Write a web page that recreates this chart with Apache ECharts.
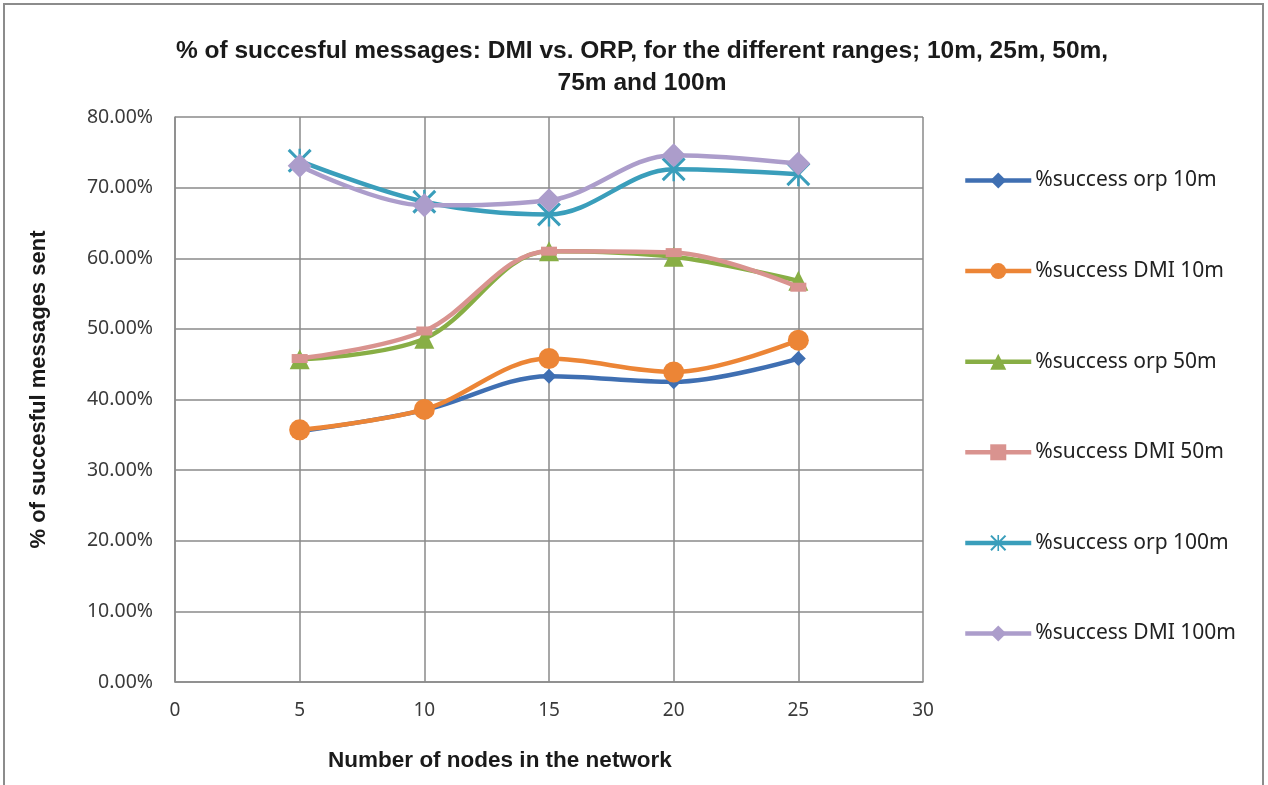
<!DOCTYPE html>
<html>
<head>
<meta charset="utf-8">
<title>% of succesful messages: DMI vs. ORP</title>
<script src="https://cdn.jsdelivr.net/npm/echarts@6/dist/echarts.min.js"></script>
<style>
  html, body { margin: 0; padding: 0; background: #fff; }
  #chart { width: 1268px; height: 785px; }
</style>
</head>
<body>
<div id="chart"></div>
<script>
// Number of nodes in the network
const nodes = [5, 10, 15, 20, 25];

// % of successful messages sent, per protocol and range
const orp10  = [35.5, 38.5, 43.3, 42.5, 45.8];
const dmi10  = [35.7, 38.6, 45.8, 43.9, 48.4];
const orp50  = [45.7, 48.6, 61.0, 60.2, 56.8];
const dmi50  = [45.8, 49.7, 61.0, 60.8, 55.9];
const orp100 = [73.8, 68.0, 66.2, 72.6, 71.9];
const dmi100 = [73.1, 67.5, 68.2, 74.6, 73.4];

const seriesNames = [
  '%success orp 10m', '%success DMI 10m', '%success orp 50m',
  '%success DMI 50m', '%success orp 100m', '%success DMI 100m'
];

const xTicks = { min: 0, max: 30, step: 5 };
const yTicks = { min: 0, max: 80, step: 10 };

// asterisk marker: an X crossed by a vertical bar
const asterisk = 'path://M0,1.8 L1.8,0 L10,8.2 L18.2,0 L20,1.8 L11.8,10 L20,18.2 L18.2,20 L10,11.8 L1.8,20 L0,18.2 L8.2,10 Z M9,0 L11,0 L11,20 L9,20 Z';

const styles = [
  { color: '#3F6FB2', symbol: 'diamond', size: 15 },
  { color: '#EC8536', symbol: 'circle', size: 21 },
  { color: '#88AE45', symbol: 'triangle', size: 20 },
  { color: '#D9938F', symbol: 'rect', size: [16, 9] },
  { color: '#3A9EBB', symbol: asterisk, size: 24 },
  { color: '#AC9DCB', symbol: 'diamond', size: 24 }
];

const values = [orp10, dmi10, orp50, dmi50, orp100, dmi100];

const series = values.map((vals, i) => ({
  name: seriesNames[i],
  type: 'line',
  smooth: 0.35,
  data: nodes.map((n, k) => [n, vals[k]]),
  symbol: styles[i].symbol,
  symbolSize: styles[i].size,
  showAllSymbol: true,
  lineStyle: { width: 4.5, color: styles[i].color },
  itemStyle: { color: styles[i].color },
  z: 2 + i
}));

const baseFont = 'Noto Sans, DejaVu Sans, sans-serif';
const boldFont = 'Liberation Sans, Arial, sans-serif';

const chart = echarts.init(document.getElementById('chart'), null, { renderer: 'canvas' });
chart.setOption({
  backgroundColor: '#ffffff',
  animation: false,
  graphic: [{
    type: 'rect',
    shape: { x: 4, y: 4, width: 1259, height: 800 },
    style: { fill: 'none', stroke: '#8c8c8c', lineWidth: 2 },
    silent: true
  }],
  title: {
    text: '% of succesful messages: DMI vs. ORP, for the different ranges; 10m, 25m, 50m,\n75m and 100m',
    left: 637,
    top: 30,
    textAlign: 'center',
    textStyle: {
      fontFamily: boldFont,
      fontWeight: 'bold',
      fontSize: 24.5,
      lineHeight: 32,
      color: '#1a1a1a'
    }
  },
  legend: {
    orient: 'vertical',
    left: 958,
    top: 165,
    itemGap: 69.6,
    itemWidth: 66,
    itemHeight: 20,
    lineStyle: { width: 4.5 },
    textStyle: { fontFamily: baseFont, fontSize: 21, color: '#222', padding: [0, 0, 0, -1] },
    data: seriesNames
  },
  grid: { left: 175, right: 345, top: 117, bottom: 103, containLabel: false },
  xAxis: {
    type: 'value',
    min: xTicks.min,
    max: xTicks.max,
    interval: xTicks.step,
    name: 'Number of nodes in the network',
    nameLocation: 'middle',
    nameGap: 67,
    nameTextStyle: {
      fontFamily: boldFont, fontWeight: 'bold', fontSize: 22.5, color: '#1a1a1a',
      padding: [0, 98, 0, 0]
    },
    axisLine: { lineStyle: { color: '#8a8a8a', width: 1.5 } },
    axisTick: { show: false },
    axisLabel: { fontFamily: baseFont, fontSize: 19, color: '#3a3a3a', margin: 19 },
    splitLine: { show: true, lineStyle: { color: '#8a8a8a', width: 1.5 } }
  },
  yAxis: {
    type: 'value',
    min: yTicks.min,
    max: yTicks.max,
    interval: yTicks.step,
    name: '% of succesful messages sent',
    nameLocation: 'middle',
    nameGap: 125,
    nameTextStyle: {
      fontFamily: boldFont, fontWeight: 'bold', fontSize: 22, color: '#1a1a1a',
      padding: [0, 0, 0, 20]
    },
    axisLine: { show: true, lineStyle: { color: '#8a8a8a', width: 1.5 } },
    axisTick: { show: false },
    axisLabel: {
      fontFamily: baseFont, fontSize: 19.5, color: '#3a3a3a', margin: 22,
      formatter: v => v.toFixed(2) + '%'
    },
    splitLine: { show: true, lineStyle: { color: '#8a8a8a', width: 1.5 } }
  },
  series: series
});
</script>
</body>
</html>
